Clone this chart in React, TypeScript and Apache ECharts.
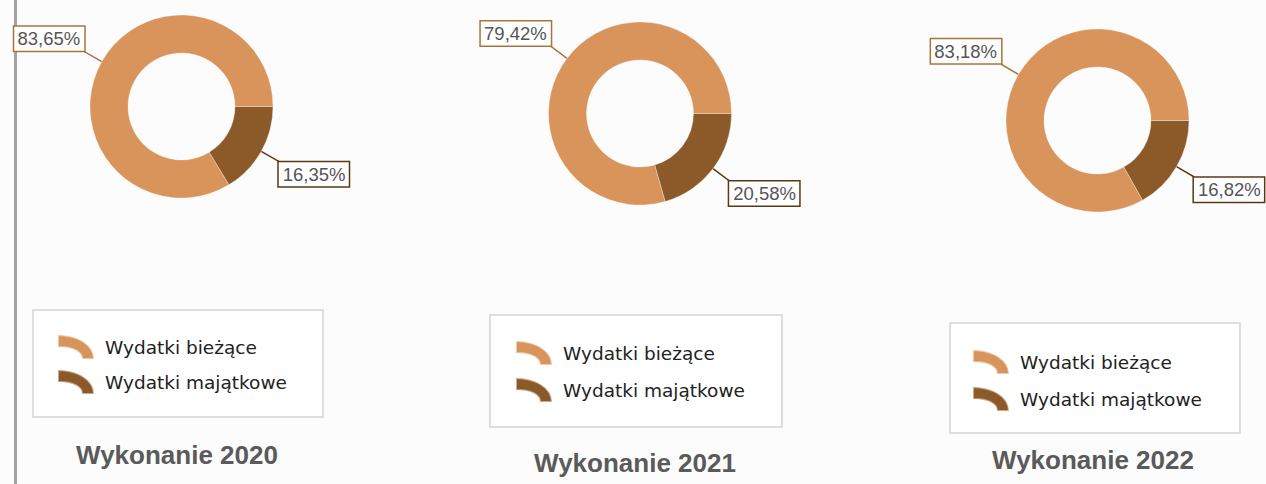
import React, { useEffect, useRef } from "react";
import * as echarts from "echarts";

const years = ["2020", "2021", "2022"];
const categories = ["Wydatki bieżące", "Wydatki majątkowe"];
const biezace = [83.65, 79.42, 83.18];
const majatkowe = [16.35, 20.58, 16.82];

const LIGHT = "#D8945A";
const DARK = "#8C5A28";
const LIGHT_BORDER = "#A8743E";
const DARK_BORDER = "#5A3816";

const centers = [
  [181.5, 106.5],
  [640, 113.5],
  [1097.5, 120.5],
];
const legendPos = [
  { left: 33, top: 310, pad: [24, 36, 22, 24], gap: 9 },
  { left: 490, top: 315, pad: [25, 37, 24, 25], gap: 11 },
  { left: 950, top: 323, pad: [26, 38, 21, 22], gap: 11 },
];
const titlePos = [
  { x: 177, y: 442 },
  { x: 635, y: 450 },
  { x: 1093, y: 447 },
];

const ICON = "path://M0,0 C20,0 36,10 36,24 L24,24 C24,17 16,12 0,12 Z";

const fmt = (v: number) => v.toFixed(2).replace(".", ",") + "%";

export default function App() {
  const ref = useRef<HTMLDivElement>(null);
  useEffect(() => {
    if (!ref.current) return;
    const chart = echarts.init(ref.current, null, { renderer: "svg" });
    const series = years.map((y, i) => ({
      type: "pie",
      name: "Wykonanie " + y,
      center: centers[i],
      radius: [53.5, 91.5],
      startAngle: 0,
      clockwise: true,
      silent: true,
      itemStyle: { borderColor: "rgba(255,255,255,0.5)", borderWidth: 0.6 },
      label: {
        show: true,
        position: "outside",
        formatter: (p: any) => fmt(p.value),
        fontFamily: "Liberation Sans, Arial, sans-serif",
        fontSize: 18.5,
        color: "#555555",
        backgroundColor: "#ffffff",
        borderWidth: 1.5,
        width: 62,
        padding: [3, 4, 2, 4],
        distanceToLabelLine: 0,
        overflow: "none",
        edgeDistance: 0,
      },
      labelLine: { show: true, length: 19, length2: 1, lineStyle: { width: 1.5 } },
      labelLayout: (p: any) => ({
        dy: p.dataIndex === 0 ? p.labelRect.height / 2 : -p.labelRect.height / 2,
      }),
      data: [
        {
          name: categories[1],
          value: majatkowe[i],
          itemStyle: { color: DARK },
          label: { borderColor: DARK_BORDER },
          labelLine: { lineStyle: { color: DARK_BORDER } },
        },
        {
          name: categories[0],
          value: biezace[i],
          itemStyle: { color: LIGHT },
          label: { borderColor: LIGHT_BORDER },
          labelLine: { lineStyle: { color: LIGHT_BORDER } },
        },
      ],
    }));
    chart.setOption({
      animation: false,
      backgroundColor: "#fcfcfc",
      title: years.map((y, i) => ({
        text: "Wykonanie " + y,
        left: titlePos[i].x,
        top: titlePos[i].y,
        textAlign: "center",
        padding: 0,
        textStyle: {
          fontFamily: "Liberation Sans, Arial, sans-serif",
          fontWeight: "bold",
          fontSize: 26,
          color: "#5a5a5a",
        },
      })),
      legend: legendPos.map((l) => ({
        orient: "vertical",
        left: l.left,
        top: l.top,
        padding: l.pad,
        itemGap: l.gap,
        itemWidth: 36,
        itemHeight: 24,
        selectedMode: false,
        backgroundColor: "#ffffff",
        borderColor: "#d4d4d4",
        borderWidth: 1.5,
        icon: ICON,
        data: categories,
        textStyle: {
          fontFamily: "DejaVu Sans, sans-serif",
          fontSize: 18.5,
          color: "#222222",
          padding: [0, 0, 0, 6],
        },
      })),
      graphic: [
        {
          type: "rect",
          shape: { x: 14, y: 0, width: 3, height: 484 },
          style: { fill: "#a3a3a3" },
          silent: true,
        },
      ],
      series,
    });
    return () => chart.dispose();
  }, []);
  return (
    <div
      ref={ref}
      style={{ position: "fixed", left: 0, top: 0, width: 1266, height: 484 }}
    />
  );
}
